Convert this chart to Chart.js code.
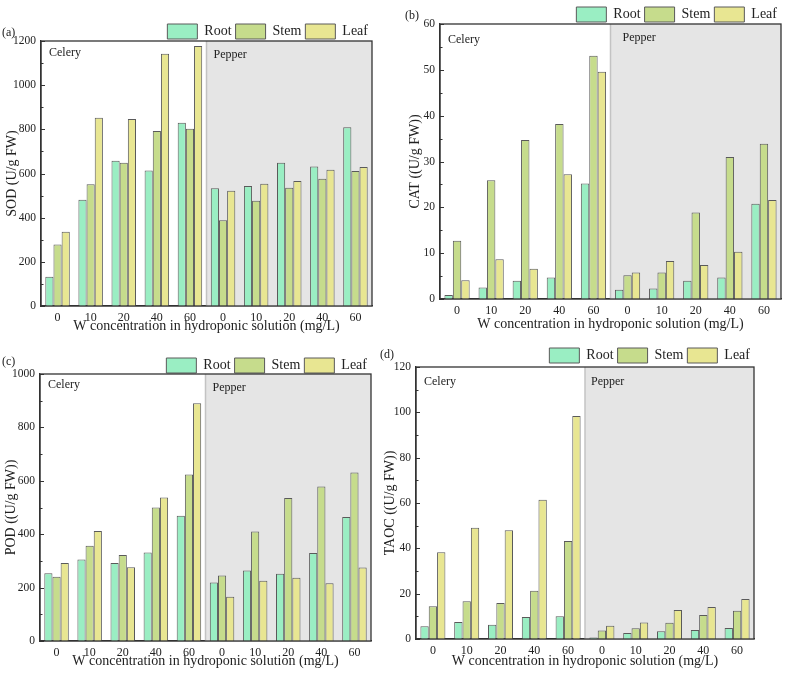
<!DOCTYPE html>
<html>
<head>
<meta charset="utf-8">
<script src="https://cdn.jsdelivr.net/npm/chart.js@4.4.0/dist/chart.umd.min.js"></script>
<style>
    html, body { margin: 0; padding: 0; background: #ffffff; }
    body { width: 789px; height: 677px; position: relative; overflow: hidden; }
    .panel { position: absolute; }
</style>
</head>
<body>
<div class="panel" style="left:0px;top:0px;width:395px;height:335px"><canvas id="chartA"></canvas></div>
<div class="panel" style="left:395px;top:0px;width:394px;height:335px"><canvas id="chartB"></canvas></div>
<div class="panel" style="left:0px;top:335px;width:395px;height:342px"><canvas id="chartC"></canvas></div>
<div class="panel" style="left:372px;top:335px;width:417px;height:342px"><canvas id="chartD"></canvas></div>
<script>
// categories: celery 0-60 then pepper 0-60
var xLabels = ['0', '10', '20', '40', '60', '0', '10', '20', '40', '60'];
var seriesNames = ['Root', 'Stem', 'Leaf'];

// (a) SOD
var sodRoot = [133, 481, 658, 614, 830, 533, 543, 649, 632, 810];
var sodStem = [278, 551, 649, 792, 803, 388, 477, 536, 576, 611];
var sodLeaf = [336, 853, 847, 1142, 1177, 522, 554, 566, 617, 629];

// (b) CAT
var catRoot = [0.9, 2.5, 4.0, 4.7, 25.2, 2.0, 2.3, 4.0, 4.7, 20.8];
var catStem = [12.7, 25.9, 34.7, 38.2, 53.1, 5.2, 5.8, 18.9, 31.0, 33.9];
var catLeaf = [4.1, 8.7, 6.6, 27.2, 49.6, 5.8, 8.3, 7.4, 10.3, 21.6];

// (c) POD
var podRoot = [254, 305, 292, 331, 469, 219, 264, 252, 330, 464];
var podStem = [241, 357, 322, 500, 624, 245, 410, 536, 579, 631];
var podLeaf = [292, 412, 276, 537, 890, 166, 226, 237, 216, 275];

// (d) TAOC
var taocRoot = [5.6, 7.5, 6.3, 9.7, 10.0, 0.7, 2.6, 3.4, 4.0, 4.8];
var taocStem = [14.4, 16.6, 15.9, 21.3, 43.2, 3.8, 4.7, 7.2, 10.6, 12.5];
var taocLeaf = [38.3, 49.1, 48.0, 61.4, 98.4, 5.9, 7.3, 12.8, 14.1, 17.6];

var fillColors = ['#9aeec3', '#c6dc8c', '#e8e692'];
var serif = "'Liberation Serif', 'Times New Roman', serif";

Chart.defaults.font.family = serif;
Chart.defaults.color = '#222222';

// grey pepper region, group names, box, inward ticks, panel letter
var panelDeco = {
    id: 'panelDeco',
    beforeDatasetsDraw: function (chart, args, opts) {
        var ctx = chart.ctx;
        var area = chart.chartArea;
        var x = chart.scales.x;
        var split = (x.getPixelForValue(4) + x.getPixelForValue(5)) / 2;
        ctx.save();
        ctx.fillStyle = '#e5e5e5';
        ctx.fillRect(split, area.top, area.right - split, area.bottom - area.top);
        ctx.strokeStyle = '#c3c3c3';
        ctx.lineWidth = 1.5;
        ctx.beginPath();
        ctx.moveTo(split, area.top);
        ctx.lineTo(split, area.bottom);
        ctx.stroke();
        ctx.fillStyle = '#222222';
        ctx.font = '12px ' + serif;
        ctx.textBaseline = 'middle';
        ctx.textAlign = 'left';
        ctx.fillText('Celery', area.left + 8, area.top + opts.celeryDy);
        ctx.fillText('Pepper', split + opts.pepperDx, area.top + opts.pepperDy);
        ctx.restore();
    },
    afterDatasetsDraw: function (chart, args, opts) {
        var ctx = chart.ctx;
        var area = chart.chartArea;
        var y = chart.scales.y;
        ctx.save();
        ctx.strokeStyle = '#333333';
        ctx.lineWidth = 1;
        ctx.beginPath();
        for (var i = 0; i < y.ticks.length; i++) {
            var py = Math.round(y.getPixelForValue(y.ticks[i].value)) + 0.5;
            ctx.moveTo(area.left, py);
            ctx.lineTo(area.left + 4, py);
            if (i > 0) {
                var pm = Math.round(y.getPixelForValue((y.ticks[i].value + y.ticks[i - 1].value) / 2)) + 0.5;
                ctx.moveTo(area.left, pm);
                ctx.lineTo(area.left + 2.5, pm);
            }
        }
        ctx.stroke();
        ctx.lineWidth = 1.3;
        ctx.strokeRect(area.left, area.top, area.right - area.left, area.bottom - area.top);
        ctx.fillStyle = '#222222';
        ctx.font = '12px ' + serif;
        ctx.textBaseline = 'middle';
        ctx.textAlign = 'left';
        ctx.fillText(opts.letter, opts.letterX, opts.letterY);
        ctx.restore();
    }
};

function makeChart(id, root, stem, leaf, cfg) {
    var values = [root, stem, leaf];
    var datasets = [];
    for (var i = 0; i < 3; i++) {
        datasets.push({
            label: seriesNames[i],
            data: values[i],
            backgroundColor: fillColors[i],
            borderColor: '#5a5a5a',
            borderWidth: 1,
            borderSkipped: 'bottom',
            categoryPercentage: 0.74,
            barPercentage: 1.0
        });
    }
    return new Chart(document.getElementById(id).getContext('2d'), {
        type: 'bar',
        data: { labels: xLabels, datasets: datasets },
        plugins: [panelDeco],
        options: {
            responsive: true,
            maintainAspectRatio: false,
            animation: false,
            layout: { padding: cfg.padding },
            plugins: {
                legend: {
                    position: 'top',
                    align: 'end',
                    maxHeight: cfg.legendHeight,
                    labels: {
                        boxWidth: 30,
                        boxHeight: 15,
                        padding: 4,
                        color: '#222222',
                        font: { size: 14 }
                    }
                },
                tooltip: { enabled: false },
                panelDeco: cfg.deco
            },
            scales: {
                x: {
                    afterFit: function (scale) { scale.height = cfg.xHeight; },
                    grid: { display: false, drawTicks: false },
                    border: { display: true, color: '#333333', width: 1.3 },
                    ticks: { padding: 5, font: { size: 12 }, color: '#222222', maxRotation: 0, autoSkip: false },
                    title: {
                        display: true,
                        text: 'W concentration in hydroponic solution (mg/L)',
                        font: { size: 14 },
                        color: '#222222',
                        padding: { top: 0, bottom: 0 }
                    }
                },
                y: {
                    min: 0,
                    max: cfg.yMax,
                    afterFit: function (scale) { scale.width = cfg.yWidth; },
                    grid: { display: false, drawTicks: false },
                    border: { display: true, color: '#333333', width: 1.3 },
                    ticks: {
                        stepSize: cfg.yStep,
                        padding: 5,
                        font: { size: 11.5 },
                        color: '#222222',
                        callback: function (value) { return String(value); }
                    },
                    title: {
                        display: true,
                        text: cfg.yTitle,
                        font: { size: 14 },
                        color: '#222222',
                        padding: { top: cfg.yTitlePad, bottom: 0 }
                    }
                }
            }
        }
    });
}

document.addEventListener('DOMContentLoaded', function () {
    makeChart('chartA', sodRoot, sodStem, sodLeaf, {
        padding: { top: 20, right: 23, bottom: 0, left: 0 },
        legendHeight: 21, xHeight: 29, yWidth: 41, yMax: 1200, yStep: 200,
        yTitle: 'SOD (U/g FW)', yTitlePad: 4,
        deco: { celeryDy: 12, pepperDx: 7, pepperDy: 14, letter: '(a)', letterX: 2, letterY: 33 }
    });
    makeChart('chartB', catRoot, catStem, catLeaf, {
        padding: { top: 3, right: 8, bottom: 2, left: 0 },
        legendHeight: 21, xHeight: 34, yWidth: 45, yMax: 60, yStep: 10,
        yTitle: 'CAT ((U/g FW))', yTitlePad: 12,
        deco: { celeryDy: 16, pepperDx: 12, pepperDy: 14, letter: '(b)', letterX: 10, letterY: 16 }
    });
    makeChart('chartC', podRoot, podStem, podLeaf, {
        padding: { top: 19, right: 24, bottom: 7, left: 0 },
        legendHeight: 20, xHeight: 29, yWidth: 40, yMax: 1000, yStep: 200,
        yTitle: 'POD ((U/g FW))', yTitlePad: 3,
        deco: { celeryDy: 11, pepperDx: 7, pepperDy: 14, letter: '(c)', letterX: 2, letterY: 27 }
    });
    makeChart('chartD', taocRoot, taocStem, taocLeaf, {
        padding: { top: 9, right: 35, bottom: 7, left: 0 },
        legendHeight: 23, xHeight: 31, yWidth: 44, yMax: 120, yStep: 20,
        yTitle: 'TAOC ((U/g FW))', yTitlePad: 10,
        deco: { celeryDy: 15, pepperDx: 6, pepperDy: 15, letter: '(d)', letterX: 8, letterY: 20 }
    });
});
</script>
</body>
</html>
